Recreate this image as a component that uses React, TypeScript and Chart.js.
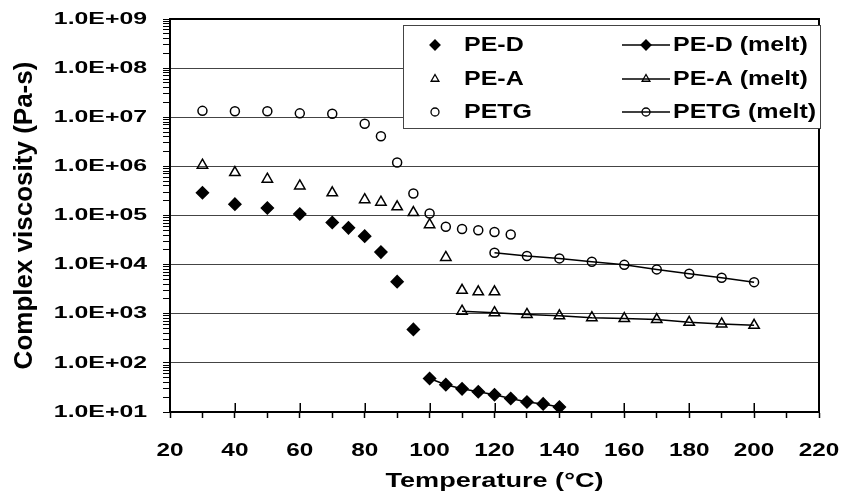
import React, { useEffect, useRef } from "react";
import { Chart, registerables } from "chart.js";
import { drawPoint } from "chart.js/helpers";

Chart.register(...registerables);

// ---------- data ----------
const peDTemps = [30, 40, 50, 60, 70, 75, 80, 85, 90, 95];
const peDVisc = [2.9e5, 1.7e5, 1.42e5, 1.07e5, 7.2e4, 5.6e4, 3.8e4, 1.8e4, 4.5e3, 4.8e2];

const peDMeltTemps = [100, 105, 110, 115, 120, 125, 130, 135, 140];
const peDMeltVisc = [48, 36, 29.6, 25.8, 22.5, 18.8, 16, 14.6, 12.6];

const peATemps = [30, 40, 50, 60, 70, 80, 85, 90, 95, 100, 105, 110, 115, 120];
const peAVisc = [1.06e6, 7.5e5, 5.5e5, 4.0e5, 2.9e5, 2.1e5, 1.87e5, 1.5e5, 1.15e5, 6.5e4, 1.4e4, 3.0e3, 2.8e3, 2.8e3];

const peAMeltTemps = [110, 120, 130, 140, 150, 160, 170, 180, 190, 200];
const peAMeltVisc = [1.13e3, 1.05e3, 9.7e2, 9.1e2, 8.3e2, 8.0e2, 7.6e2, 6.7e2, 6.2e2, 5.8e2];

const petgTemps = [30, 40, 50, 60, 70, 80, 85, 90, 95, 100, 105, 110, 115, 120, 125];
const petgVisc = [1.35e7, 1.33e7, 1.33e7, 1.2e7, 1.18e7, 7.4e6, 4.1e6, 1.2e6, 2.8e5, 1.1e5, 5.9e4, 5.3e4, 5.0e4, 4.6e4, 4.1e4];

const petgMeltTemps = [120, 130, 140, 150, 160, 170, 180, 190, 200];
const petgMeltVisc = [1.74e4, 1.5e4, 1.34e4, 1.14e4, 9.9e3, 8.0e3, 6.5e3, 5.4e3, 4.4e3];

const seriesLabels = ["PE-D", "PE-D (melt)", "PE-A", "PE-A (melt)", "PETG", "PETG (melt)"];

const yDecades = [1e1, 1e2, 1e3, 1e4, 1e5, 1e6, 1e7, 1e8, 1e9];
const yMinorMultipliers = [2, 3, 4, 5, 6, 7, 8, 9];
const xTickValues = [20, 30, 40, 50, 60, 70, 80, 90, 100, 110, 120, 130, 140, 150, 160, 170, 180, 190, 200, 210, 220];
const xLabelEvery = 20;

const xTitle = "Temperature (\u00B0C)";
const yTitle = "Complex viscosity (Pa-s)";

// ---------- style ----------
const FONT = "'Liberation Sans', Arial, Helvetica, sans-serif";
// horizontal stretch of text, keyed by font size (the reference text is wide)
const STRETCH: Record<string, number> = { "17": 1.46, "19": 1.28, "19.5": 1.39, "20": 1.25 };

const zip = (xs: number[], ys: number[]) => xs.map((x, i) => ({ x, y: ys[i] }));

function patchStretch(ctx: any) {
  if (ctx.__stretched) return;
  ctx.__stretched = true;
  const orig = ctx.fillText;
  ctx.fillText = function (text: string, x: number, y: number) {
    const m = /(\d+(?:\.\d+)?)px/.exec(this.font);
    const s = m ? STRETCH[m[1]] : undefined;
    if (!s || s === 1) return orig.call(this, text, x, y);
    this.save();
    this.translate(x, y);
    this.scale(s, 1);
    orig.call(this, text, 0, 0);
    this.restore();
  };
}

const isDecade = (v: number) => {
  const l = Math.log10(v);
  return Math.abs(l - Math.round(l)) < 1e-9;
};

const framePlugin = {
  id: "frame",
  beforeDatasetsDraw(chart: any) {
    const { ctx, chartArea } = chart;
    const { left, right, top, bottom } = chartArea;
    ctx.save();
    ctx.strokeStyle = "#000";
    ctx.lineWidth = 2;
    ctx.beginPath();
    ctx.moveTo(left, top);
    ctx.lineTo(right, top);
    ctx.lineTo(right, bottom);
    ctx.stroke();
    // inner part of major x ticks
    const xs = chart.scales.x;
    ctx.lineWidth = 1.5;
    ctx.beginPath();
    for (const v of xTickValues) {
      if (v % xLabelEvery !== 0) continue;
      const px = Math.round(xs.getPixelForValue(v)) + 0.25;
      ctx.moveTo(px, bottom);
      ctx.lineTo(px, bottom - 9);
    }
    ctx.stroke();
    ctx.restore();
  },
};

const legendPlugin = {
  id: "boxLegend",
  afterDatasetsDraw(chart: any) {
    const { ctx } = chart;
    const ds = chart.data.datasets;
    const bx = 403, by = 25, bw = 418, bh = 104;
    ctx.save();
    ctx.fillStyle = "#fff";
    ctx.fillRect(bx, by, bw, bh);
    ctx.strokeStyle = "#444";
    ctx.lineWidth = 1;
    ctx.strokeRect(bx + 0.5, by + 0.5, bw - 1, bh - 1);
    const rows = [45, 79, 112];
    ctx.font = `bold 20px ${FONT}`;
    ctx.textBaseline = "middle";
    ctx.textAlign = "left";
    for (let i = 0; i < 3; i++) {
      const y = rows[i];
      const sc = ds[2 * i];
      const ml = ds[2 * i + 1];
      // scatter entry
      ctx.fillStyle = sc.backgroundColor;
      ctx.strokeStyle = "#000";
      ctx.lineWidth = 1.3;
      drawPoint(ctx, { pointStyle: sc.pointStyle, radius: sc.legendRadius, borderWidth: 1.3, rotation: 0 }, 435, y);
      ctx.fillStyle = "#000";
      ctx.fillText(sc.label, 464, y);
      // line entry
      ctx.strokeStyle = "#000";
      ctx.lineWidth = 1.5;
      ctx.beginPath();
      ctx.moveTo(622, y);
      ctx.lineTo(670, y);
      ctx.stroke();
      ctx.fillStyle = ml.backgroundColor;
      ctx.lineWidth = 1.3;
      drawPoint(ctx, { pointStyle: ml.pointStyle, radius: ml.legendRadius, borderWidth: 1.3, rotation: 0 }, 646, y);
      ctx.fillStyle = "#000";
      ctx.fillText(ml.label, 673, y);
    }
    ctx.restore();
  },
};

export default function App() {
  const ref = useRef<HTMLCanvasElement | null>(null);

  useEffect(() => {
    document.body.style.margin = "0";
    const canvas = ref.current!;
    const ctx2d = canvas.getContext("2d");
    patchStretch(ctx2d);

    const open = "rgba(0,0,0,0)";
    const base = { borderColor: "#000", pointBorderColor: "#000", pointBorderWidth: 1.5 };
    const datasets: any[] = [
      { ...base, label: seriesLabels[0], data: zip(peDTemps, peDVisc), pointStyle: "rectRot", pointRadius: 6, backgroundColor: "#000", pointBackgroundColor: "#000", showLine: false, legendRadius: 5 },
      { ...base, label: seriesLabels[1], data: zip(peDMeltTemps, peDMeltVisc), pointStyle: "rectRot", pointRadius: 6, backgroundColor: "#000", pointBackgroundColor: "#000", showLine: true, borderWidth: 1.5, legendRadius: 5 },
      { ...base, label: seriesLabels[2], data: zip(peATemps, peAVisc), pointStyle: "triangle", pointRadius: 6, backgroundColor: open, pointBackgroundColor: open, showLine: false, legendRadius: 4.5 },
      { ...base, label: seriesLabels[3], data: zip(peAMeltTemps, peAMeltVisc), pointStyle: "triangle", pointRadius: 6, backgroundColor: open, pointBackgroundColor: open, showLine: true, borderWidth: 1.5, legendRadius: 4.5 },
      { ...base, label: seriesLabels[4], data: zip(petgTemps, petgVisc), pointStyle: "circle", pointRadius: 4.5, backgroundColor: open, pointBackgroundColor: open, showLine: false, legendRadius: 4 },
      { ...base, label: seriesLabels[5], data: zip(petgMeltTemps, petgMeltVisc), pointStyle: "circle", pointRadius: 4.5, backgroundColor: open, pointBackgroundColor: open, showLine: true, borderWidth: 1.5, legendRadius: 4 },
    ];

    const yTicks: number[] = [];
    yDecades.forEach((d, i) => {
      yTicks.push(d);
      if (i < yDecades.length - 1) yMinorMultipliers.forEach((m) => yTicks.push(d * m));
    });

    const chart = new Chart(canvas, {
      type: "scatter",
      data: { datasets },
      plugins: [framePlugin, legendPlugin],
      options: {
        animation: false,
        responsive: false,
        devicePixelRatio: 1,
        layout: { padding: { left: 0, top: 19, right: 25, bottom: 0 } },
        plugins: { legend: { display: false }, tooltip: { enabled: false } },
        elements: { line: { tension: 0 } },
        scales: {
          x: {
            type: "linear",
            min: 20,
            max: 220,
            afterBuildTicks: (s: any) => {
              s.ticks = xTickValues.map((v) => ({ value: v }));
            },
            afterFit: (s: any) => {
              s.height = 87;
              s.paddingRight = 0;
              s.paddingLeft = 0;
            },
            ticks: {
              autoSkip: false,
              maxRotation: 0,
              padding: 21,
              color: "#000",
              font: { family: FONT, size: 19, weight: "bold" },
              callback: (v: any) => (Number(v) % xLabelEvery === 0 ? String(v) : ""),
            },
            grid: { drawOnChartArea: false, tickLength: 6, tickColor: "#000", tickWidth: 1.5 },
            border: { display: true, color: "#000", width: 2 },
            title: {
              display: true,
              text: xTitle,
              color: "#000",
              font: { family: FONT, size: 19.5, weight: "bold" },
              padding: { top: 0, bottom: 6 },
            },
          },
          y: {
            type: "logarithmic",
            min: 10,
            max: 1e9,
            afterBuildTicks: (s: any) => {
              s.ticks = yTicks.map((v) => ({ value: v, major: isDecade(v) }));
            },
            afterFit: (s: any) => {
              s.width = 170;
              s.paddingTop = 0;
              s.paddingBottom = 0;
            },
            ticks: {
              autoSkip: false,
              padding: 16,
              color: "#000",
              font: { family: FONT, size: 17, weight: "bold" },
              callback: (v: any) => {
                const n = Number(v);
                if (!isDecade(n)) return "";
                const e = Math.round(Math.log10(n));
                return "1.0E+" + String(e).padStart(2, "0");
              },
            },
            grid: {
              color: (c: any) => (c.tick && isDecade(c.tick.value) ? "#444" : "rgba(0,0,0,0)"),
              lineWidth: 1,
              tickLength: 7,
              tickColor: "#000",
              tickWidth: 1,
            },
            border: { display: true, color: "#000", width: 2 },
            title: {
              display: true,
              text: yTitle,
              color: "#000",
              font: { family: FONT, size: 26, weight: "bold" },
              padding: { top: 9, bottom: 0 },
            },
          },
        },
      } as any,
    });

    return () => chart.destroy();
  }, []);

  return (
    <div style={{ width: 844, height: 499 }}>
      <canvas ref={ref} width={844} height={499} style={{ display: "block", width: 844, height: 499 }} />
    </div>
  );
}
